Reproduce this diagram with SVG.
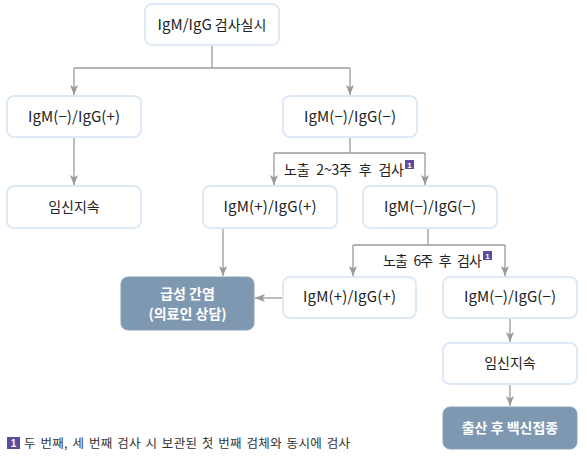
<svg xmlns="http://www.w3.org/2000/svg" width="587" height="456" viewBox="0 0 587 456">
<defs>
<style>
.box{fill:#ffffff;stroke:#dde9f5;stroke-width:2}
.dark{fill:#7f98b2;stroke:#8aa2ba;stroke-width:1}
.t{font-family:"Noto Sans CJK KR","Noto Sans",sans-serif;font-size:14px;fill:#222;text-anchor:middle}
.lat{font-size:15px}
.w{font-family:"Noto Sans CJK KR","Noto Sans",sans-serif;font-size:14px;font-weight:bold;fill:#fff;text-anchor:middle}
.l{font-family:"Noto Sans CJK KR","Noto Sans",sans-serif;font-size:14px;fill:#222;word-spacing:4px}
.fn{font-family:"Noto Sans CJK KR","Noto Sans",sans-serif;font-size:12.5px;fill:#333;word-spacing:1.5px}
.badge{fill:#5a4d9e}
.bt{font-family:"Liberation Sans",sans-serif;font-size:8px;font-weight:bold;fill:#fff;text-anchor:middle}
.c{fill:none;stroke:#9a9a9a;stroke-width:1.3}
</style>
<marker id="ah" markerWidth="10" markerHeight="8" refX="10" refY="4" orient="auto" markerUnits="userSpaceOnUse">
<path d="M0,0 L10,4 L0,8 L2.5,4 z" fill="#9a9a9a"/>
</marker>
</defs>
<rect width="587" height="456" fill="#ffffff"/>
<g id="connectors">
<path class="c" d="M212,45 V68 M74,68 H350"/>
<path class="c" d="M74,68 V95" marker-end="url(#ah)"/>
<path class="c" d="M350,68 V95" marker-end="url(#ah)"/>
<path class="c" d="M74,137 V185" marker-end="url(#ah)"/>
<path class="c" d="M350,137 V153 M274,153 H425"/>
<path class="c" d="M274,153 V185" marker-end="url(#ah)"/>
<path class="c" d="M425,153 V185" marker-end="url(#ah)"/>
<path class="c" d="M428,228 V245 M353,245 H505"/>
<path class="c" d="M353,245 V276" marker-end="url(#ah)"/>
<path class="c" d="M505,245 V276" marker-end="url(#ah)"/>
<path class="c" d="M223,228 V276" marker-end="url(#ah)"/>
<path class="c" d="M283,298 H255" marker-end="url(#ah)"/>
<path class="c" d="M510,318 V342" marker-end="url(#ah)"/>
<path class="c" d="M510,384 V406" marker-end="url(#ah)"/>
</g>
<g id="label1">
<text class="l" x="284" y="175" textLength="120" lengthAdjust="spacing">노출 2~3주 후 검사</text>
<rect class="badge" x="405" y="160" width="9" height="9"/>
<text class="bt" x="409.5" y="167.5">1</text>
</g>
<g id="label2">
<text class="l" x="383" y="266" textLength="99" lengthAdjust="spacing">노출 6주 후 검사</text>
<rect class="badge" x="483" y="251" width="9" height="9"/>
<text class="bt" x="487.5" y="258.5">1</text>
</g>
<g id="n-start">
<rect class="box" x="145" y="4" width="134" height="41" rx="7"/>
<text class="t" x="212" y="30"><tspan class="lat">IgM/IgG</tspan> 검사실시</text>
</g>
<g id="n-mp">
<rect class="box" x="7" y="96" width="134" height="41" rx="7"/>
<text class="t lat" x="74" y="122" textLength="92" lengthAdjust="spacing">IgM(−)/IgG(+)</text>
</g>
<g id="n-mm1">
<rect class="box" x="283" y="96" width="134" height="41" rx="7"/>
<text class="t lat" x="350" y="122" textLength="92" lengthAdjust="spacing">IgM(−)/IgG(−)</text>
</g>
<g id="n-cont1">
<rect class="box" x="7" y="186" width="134" height="42" rx="7"/>
<text class="t" x="74" y="212">임신지속</text>
</g>
<g id="n-pp1">
<rect class="box" x="203" y="186" width="134" height="42" rx="7"/>
<text class="t lat" x="270" y="212" textLength="93" lengthAdjust="spacing">IgM(+)/IgG(+)</text>
</g>
<g id="n-mm2">
<rect class="box" x="363" y="186" width="134" height="42" rx="7"/>
<text class="t lat" x="430" y="212" textLength="92" lengthAdjust="spacing">IgM(−)/IgG(−)</text>
</g>
<g id="n-acute">
<rect class="dark" x="121" y="277" width="133" height="53" rx="7"/>
<text class="w" x="187.5" y="299">급성 간염</text>
<text class="w" x="187.5" y="319">(의료인 상담)</text>
</g>
<g id="n-pp2">
<rect class="box" x="283" y="277" width="133" height="41" rx="7"/>
<text class="t lat" x="349.5" y="302" textLength="93" lengthAdjust="spacing">IgM(+)/IgG(+)</text>
</g>
<g id="n-mm3">
<rect class="box" x="443" y="277" width="134" height="41" rx="7"/>
<text class="t lat" x="510" y="302" textLength="92" lengthAdjust="spacing">IgM(−)/IgG(−)</text>
</g>
<g id="n-cont2">
<rect class="box" x="443" y="343" width="134" height="41" rx="7"/>
<text class="t" x="510" y="368">임신지속</text>
</g>
<g id="n-vacc">
<rect class="dark" x="443" y="407" width="134" height="42" rx="7"/>
<text class="w" x="510" y="433">출산 후 백신접종</text>
</g>
<g id="footnote">
<rect class="badge" x="7" y="437" width="13" height="12"/>
<text class="bt" x="13.5" y="446.5" style="font-size:10px">1</text>
<text class="fn" x="24" y="448" textLength="326" lengthAdjust="spacing">두 번째, 세 번째 검사 시 보관된 첫 번째 검체와 동시에 검사</text>
</g>
</svg>
